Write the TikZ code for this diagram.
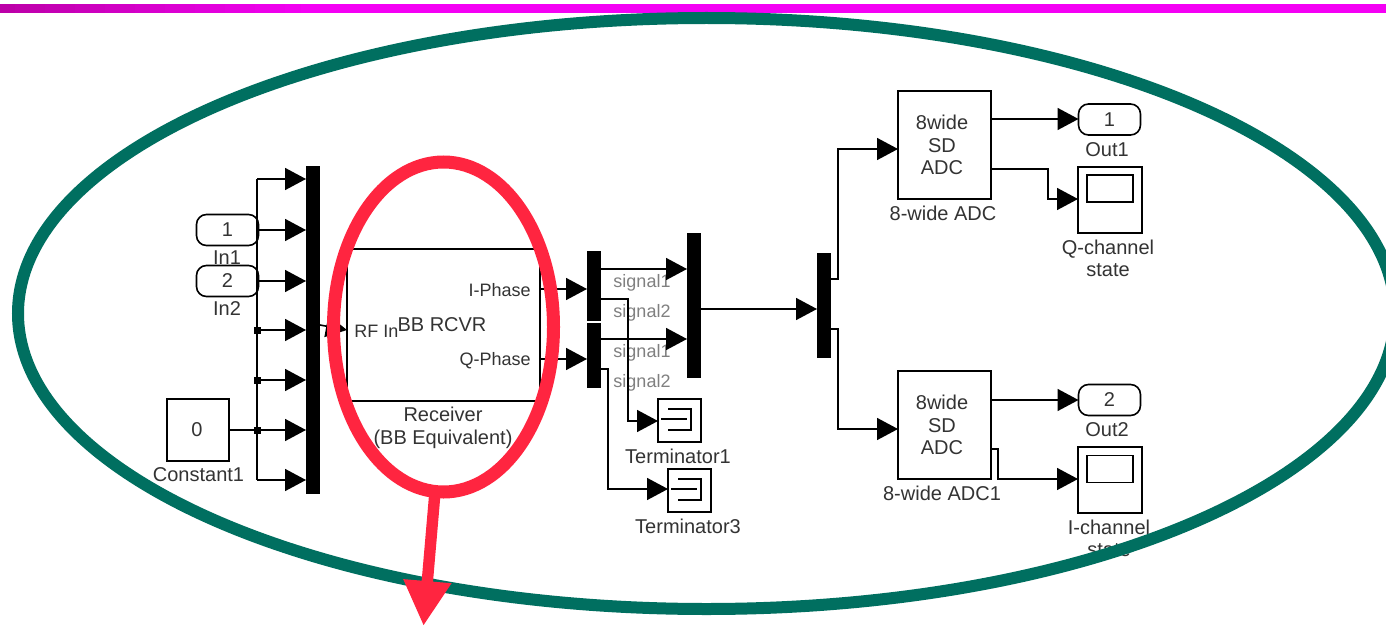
\documentclass[tikz,border=0pt]{standalone}
\usepackage{fontspec}
\setmainfont{Liberation Sans}
\usetikzlibrary{arrows.meta}
\definecolor{loopgreen}{HTML}{006F60}
\definecolor{markred}{HTML}{FF2540}
\definecolor{topbarleft}{HTML}{BC00A8}
\definecolor{topbar}{HTML}{F400F4}
\definecolor{labelgray}{HTML}{333333}
\tikzset{
  wire/.style={line width=0.8pt, black},
  sig/.style={wire, -{Triangle[length=10.5pt,width=11pt]}},
  bar/.style={fill=black, minimum width=7pt, inner sep=0pt, outer sep=0pt},
  block/.style={draw=black, line width=0.8pt, fill=white, inner sep=0pt, outer sep=0pt, align=center, text=labelgray},
  port/.style={block, rounded corners=5pt, minimum width=31pt, minimum height=15.5pt},
  label/.style={inner sep=0pt, text=labelgray, align=center},
  smalllabel/.style={label, font=\fontsize{9}{10}\selectfont},
  siglabel/.style={inner sep=0pt, text=gray, font=\fontsize{9}{10}\selectfont},
  dot/.style={fill=black, minimum size=3.5pt, inner sep=0pt},
  every node/.append style={font=\fontsize{10}{11.2}\selectfont},
}
\begin{document}
\begin{tikzpicture}[x=0.5pt, y=-0.5pt]
    \clip (0,0) rectangle (1386,626);
    \fill[white] (0,0) rectangle (1386,626);
    \fill[topbar] (299,4) rectangle (1386,13);
    \foreach \p in {0,5,...,95} {
      \fill[topbar!\p!topbarleft] (3*\p,4) rectangle (3*\p+16,13);
    }

    \node[bar, minimum height=164pt] (muxa) at (313,330) {};
    \node[bar, minimum height=35pt] (demuxa) at (594,285.5) {};
    \node[bar, minimum height=32.5pt] (demuxb) at (594,355.5) {};
    \node[bar, minimum height=72.5pt] (muxb) at (694,305.5) {};
    \node[bar, minimum height=52.5pt] (muxc) at (824,305.5) {};

    \node[port] (in1) at (227.5,230) {1};
    \node[label] (in1label) at (227,258) {In1};
    \node[port] (in2) at (227.5,281) {2};
    \node[label] (in2label) at (227,309) {In2};
    \node[block, minimum width=31pt, minimum height=31pt] (const) at (198,430) {};
    \node[label] (constval) at (197,430) {0};
    \node[label] (constlabel) at (198.5,475) {Constant1};

    \node[block, minimum width=96.5pt, minimum height=76pt] (recv) at (443.5,325) {};
    \node[smalllabel, anchor=west] (rfin) at (354,331) {RF In};
    \node[label] (recvname) at (442,325) {BB RCVR};
    \node[smalllabel, anchor=east] (iphase) at (531,290) {I-Phase};
    \node[smalllabel, anchor=east] (qphase) at (531,361) {Q-Phase};
    \node[label] (recvlabel) at (443,428) {Receiver\\(BB Equivalent)};

    \node[siglabel] (sa) at (642,283) {signal1};
    \node[siglabel] (sb) at (642,313) {signal2};
    \node[siglabel] (sc) at (642,353) {signal1};
    \node[siglabel] (sd) at (642,383) {signal2};

    \node[block, minimum width=21.5pt, minimum height=21.5pt] (terma) at (679.5,420.5) {};
    \node[label] (termalabel) at (678,456) {Terminator1};
    \node[block, minimum width=21.5pt, minimum height=21.5pt] (termb) at (689.5,490.5) {};
    \node[label] (termblabel) at (688,526) {Terminator3};

    \node[block, minimum width=46.5pt, minimum height=54pt] (adca) at (944.5,145) {};
    \node[label] (adcatext) at (942,145) {8wide\\SD\\ADC};
    \node[label] (adcalabel) at (943,213) {8-wide ADC};
    \node[block, minimum width=46.5pt, minimum height=54pt] (adcb) at (944.5,425) {};
    \node[label] (adcbtext) at (942,425) {8wide\\SD\\ADC};
    \node[label] (adcblabel) at (942,493) {8-wide ADC1};

    \node[port] (outa) at (1109.5,119.5) {1};
    \node[label] (outalabel) at (1107,150) {Out1};
    \node[port] (outb) at (1109.5,400) {2};
    \node[label] (outblabel) at (1107,430) {Out2};

    \node[block, minimum width=32pt, minimum height=33pt] (scopea) at (1110,200) {};
    \node[block, minimum width=23pt, minimum height=13.5pt] (screena) at (1110,188.5) {};
    \node[label] (scopealabel) at (1108,258.5) {Q-channel\\state};
    \node[block, minimum width=32pt, minimum height=33pt] (scopeb) at (1110,480) {};
    \node[block, minimum width=23pt, minimum height=13.5pt] (screenb) at (1110,469) {};
    \node[label] (scopeblabel) at (1109,538.5) {I-channel\\state};

    \draw[wire] (661,419) -- (687,419) (668,409) -- (691,409) -- (691,430) -- (668,430);
    \draw[wire] (671,489) -- (697,489) (678,479) -- (701,479) -- (701,500) -- (678,500);

    \coordinate (trunktop) at (257,179);
    \coordinate (trunkbot) at (257,480);
    \coordinate (recvi) at (recv.east |- 0,289);
    \coordinate (recvq) at (recv.east |- 0,359);
    \draw[wire] (trunktop) -- (trunkbot);
    \draw[wire] (const.east) -- (257,430);
    \foreach \y in {179,330,380,430,480} {
      \draw[sig] (257,\y) -- (muxa.west |- 0,\y);
    }
    \foreach \y in {330,380,430} {
      \node[dot] at (257,\y) {};
    }
    \path[sig]
      (in1.east) edge (muxa.west |- in1.east)
      (in2.east) edge (muxa.west |- in2.east)
      (muxa.east |- recv.west) edge (recv.west |- 0,330)
      (recvi) edge (demuxa.west |- recvi)
      (recvq) edge (demuxb.west |- recvq)
      (demuxa.east |- 0,269) edge (muxb.west |- 0,269)
      (demuxb.east |- 0,339) edge (muxb.west |- 0,339)
      (muxb.east |- 0,309) edge (muxc.west |- 0,309)
      (adca.east |- 0,119) edge (outa.west |- 0,119)
      (adcb.east |- 0,400) edge (outb.west |- 0,400)
      ;
    \draw[sig] (demuxa.east |- 0,299) -| (628,421) -- (terma.west |- 0,421);
    \draw[sig] (demuxb.east |- 0,369) -| (608,489) -- (termb.west |- 0,489);
    \draw[sig] (muxc.east |- 0,279) -| (838,149) -- (adca.west |- 0,149);
    \draw[sig] (muxc.east |- 0,329) -| (838,429) -- (adcb.west |- 0,429);
    \draw[sig] (adca.east |- 0,169) -| (1048,199) -- (scopea.west |- 0,199);
    \draw[sig] (adcb.east |- 0,449) -| (998,479) -- (scopeb.west |- 0,479);

    \draw[loopgreen, line width=6pt] (706.5,313.5) ellipse [x radius=688.5, y radius=295.5];
    \draw[markred, line width=6.5pt] (443.5,327) ellipse [x radius=110, y radius=165];
    \coordinate (redstart) at (435,492);
    \coordinate (redtip) at (423.5,626);
    \draw[markred, line width=5.7pt, -{Triangle[length=22.5pt,width=22.5pt]}] (redstart) -- (redtip);
\end{tikzpicture}
\end{document}
